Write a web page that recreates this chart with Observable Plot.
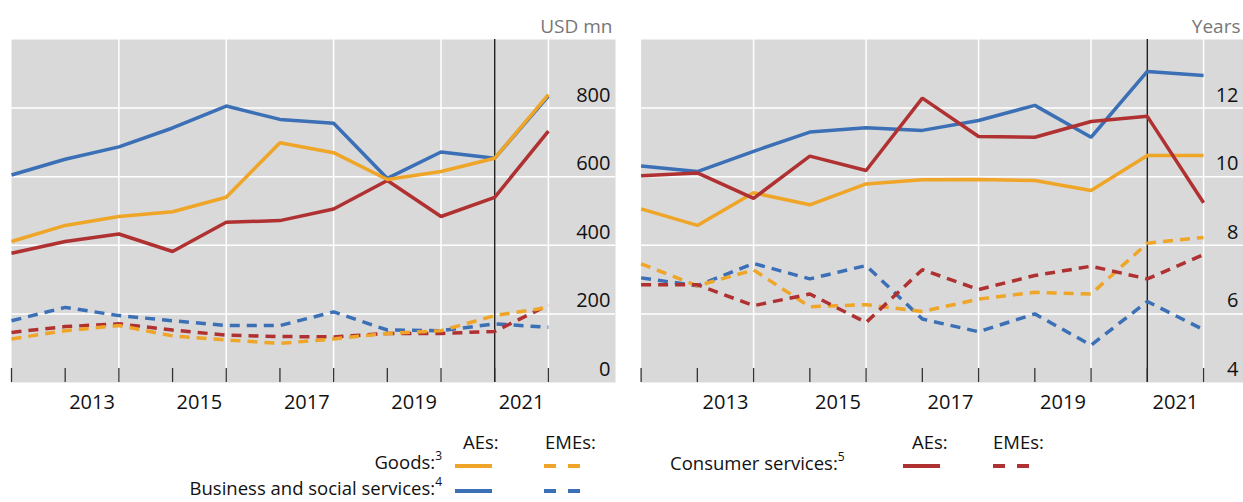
<!DOCTYPE html>
<html><head><meta charset="utf-8">
<script src="https://cdn.jsdelivr.net/npm/d3@7"></script>
<script src="https://cdn.jsdelivr.net/npm/@observablehq/plot@0.6"></script>
<style>
body{margin:0;background:#fff;font-family:"Open Sans",sans-serif;}
#wrap{position:relative;width:1243px;height:502px;overflow:hidden;}
.panel{position:absolute;top:0;}
.lg{position:absolute;font-size:18.5px;color:#111;white-space:nowrap;line-height:1;transform:translateY(-50%);}
.lg sup{font-size:12px;vertical-align:baseline;position:relative;top:-0.75em;line-height:0;}
.sw{position:absolute;}
</style></head><body><div id="wrap"></div>
<script>
// ---- data ----
const years = [2011, 2012, 2013, 2014, 2015, 2016, 2017, 2018, 2019, 2020, 2021];
const labelYears = [2013, 2015, 2017, 2019, 2021];
const boundaryYear = 2020;

// Left panel (USD mn)
const goodsAE_L = [411, 458, 484, 498, 540, 699, 670, 592, 615, 654, 839];
const goodsEME_L = [127, 151, 166, 136, 124, 114, 127, 143, 151, 195, 219];
const busAE_L = [605, 651, 687, 742, 806, 767, 756, 595, 672, 654, 835];
const busEME_L = [180, 219, 195, 180, 166, 166, 206, 153, 151, 171, 161];
const conAE_L = [377, 411, 433, 382, 467, 472, 506, 589, 484, 540, 733];
const conEME_L = [146, 163, 171, 153, 138, 134, 133, 143, 143, 149, 226];
const yTicksL = [0, 200, 400, 600, 800];

// Right panel (Years)
const goodsAE_R = [9.06, 8.58, 9.53, 9.18, 9.79, 9.91, 9.92, 9.89, 9.60, 10.62, 10.62];
const goodsEME_R = [7.46, 6.82, 7.28, 6.21, 6.27, 6.07, 6.43, 6.63, 6.58, 8.06, 8.23];
const busAE_R = [10.31, 10.15, 10.74, 11.30, 11.43, 11.35, 11.64, 12.08, 11.15, 13.07, 12.95];
const busEME_R = [7.05, 6.82, 7.47, 7.02, 7.41, 5.85, 5.48, 6.00, 5.09, 6.36, 5.54];
const conAE_R = [10.03, 10.11, 9.37, 10.60, 10.18, 12.29, 11.17, 11.15, 11.61, 11.76, 9.24];
const conEME_R = [6.85, 6.85, 6.24, 6.58, 5.75, 7.29, 6.71, 7.12, 7.39, 7.02, 7.73];
const yTicksR = [4, 6, 8, 10, 12];

const ORANGE = "#EFA527", BLUE = "#3B6FB6", RED = "#B03131";

function toRows(vals) { return years.map((y, i) => ({year: y, v: vals[i]})); }

function panel({width, left, xDomain, xRange, yDomain, yTicks, unit, series}) {
  const [y0, y1] = yDomain;
  const tickLen = (y1 - y0) * 14 / 343;
  const lines = series.map(s => Plot.line(toRows(s.vals), {
    x: "year", y: "v", stroke: s.color, strokeWidth: 3.5,
    strokeDasharray: s.dashed ? "10,7" : null, strokeLinejoin: "miter", strokeLinecap: "butt"
  }));
  const svg = Plot.plot({
    width, height: 420,
    marginTop: 39, marginBottom: 38,
    marginLeft: xRange[0], marginRight: width - xRange[1],
    x: {domain: xDomain, axis: null},
    y: {domain: yDomain, axis: null},
    style: {fontFamily: "Open Sans", fontSize: "20px", overflow: "visible", background: "transparent"},
    marks: [
      Plot.frame({fill: "#d9d9d9", stroke: "none"}),
      Plot.ruleY(yTicks.slice(1), {stroke: "#fff", strokeWidth: 1.5}),
      Plot.ruleX(labelYears, {stroke: "#fff", strokeWidth: 1.5}),
      Plot.ruleX(years, {x: d => d, y1: () => y0, y2: () => y0 + tickLen, stroke: "#333", strokeWidth: 1.3}),
      Plot.ruleX([boundaryYear], {stroke: "#222", strokeWidth: 1.4}),
      ...lines,
      Plot.text(yTicks, {y: d => d, frameAnchor: "right", textAnchor: "end", lineAnchor: "middle", dx: -5, dy: -13, text: d => String(d), fill: "#111"}),
      Plot.text(labelYears, {x: d => d - 0.5, frameAnchor: "bottom", lineAnchor: "middle", dy: 20.5, text: d => String(d), fill: "#111"}),
      Plot.text([unit], {frameAnchor: "top-right", textAnchor: "end", lineAnchor: "middle", dx: -3, dy: -13, text: d => d, fill: "#777", fontSize: 19})
    ]
  });
  svg.classList.add("panel");
  svg.style.left = left + "px";
  return svg;
}

const wrap = document.getElementById("wrap");
wrap.appendChild(panel({
  width: 620, left: 0, xDomain: [2011, 2022.25], xRange: [11, 615],
  yDomain: [0, 1000], yTicks: yTicksL, unit: "USD mn",
  series: [
    {vals: busEME_L, color: BLUE, dashed: true},
    {vals: conEME_L, color: RED, dashed: true},
    {vals: goodsEME_L, color: ORANGE, dashed: true},
    {vals: conAE_L, color: RED},
    {vals: busAE_L, color: BLUE},
    {vals: goodsAE_L, color: ORANGE}
  ]
}));
wrap.appendChild(panel({
  width: 623, left: 620, xDomain: [2011, 2021.71], xRange: [20.6, 623],
  yDomain: [4, 14], yTicks: yTicksR, unit: "Years",
  series: [
    {vals: busEME_R, color: BLUE, dashed: true},
    {vals: goodsEME_R, color: ORANGE, dashed: true},
    {vals: conEME_R, color: RED, dashed: true},
    {vals: goodsAE_R, color: ORANGE},
    {vals: busAE_R, color: BLUE},
    {vals: conAE_R, color: RED}
  ]
}));

// ---- legend ----
function text(html, x, y, align) {
  const d = document.createElement("div");
  d.className = "lg";
  d.innerHTML = html;
  d.style.top = y + "px";
  if (align === "right") { d.style.right = (1243 - x) + "px"; } else { d.style.left = x + "px"; }
  wrap.appendChild(d);
}
function swatch(x1, x2, y, color, dashed) {
  const ns = "http://www.w3.org/2000/svg";
  const s = document.createElementNS(ns, "svg");
  s.setAttribute("class", "sw");
  s.setAttribute("width", x2 - x1); s.setAttribute("height", 8);
  s.style.left = x1 + "px"; s.style.top = (y - 4) + "px";
  const l = document.createElementNS(ns, "line");
  l.setAttribute("x1", 0); l.setAttribute("x2", x2 - x1);
  l.setAttribute("y1", 4); l.setAttribute("y2", 4);
  l.setAttribute("stroke", color); l.setAttribute("stroke-width", 4);
  if (dashed) l.setAttribute("stroke-dasharray", "12,12");
  s.appendChild(l);
  wrap.appendChild(s);
}
text("AEs:", 463, 442);
text("EMEs:", 545, 442);
text("Goods:<sup>3</sup>", 442, 462, "right");
text("Business and social services:<sup>4</sup>", 442, 488, "right");
swatch(455, 492, 466, ORANGE, false);
swatch(544, 580, 466, ORANGE, true);
swatch(455, 492, 491, BLUE, false);
swatch(544, 580, 491, BLUE, true);

text("AEs:", 912, 442);
text("EMEs:", 993, 442);
text("Consumer services:<sup>5</sup>", 670, 463);
swatch(903, 940, 466, RED, false);
swatch(993, 1029, 466, RED, true);
</script>
</body></html>
